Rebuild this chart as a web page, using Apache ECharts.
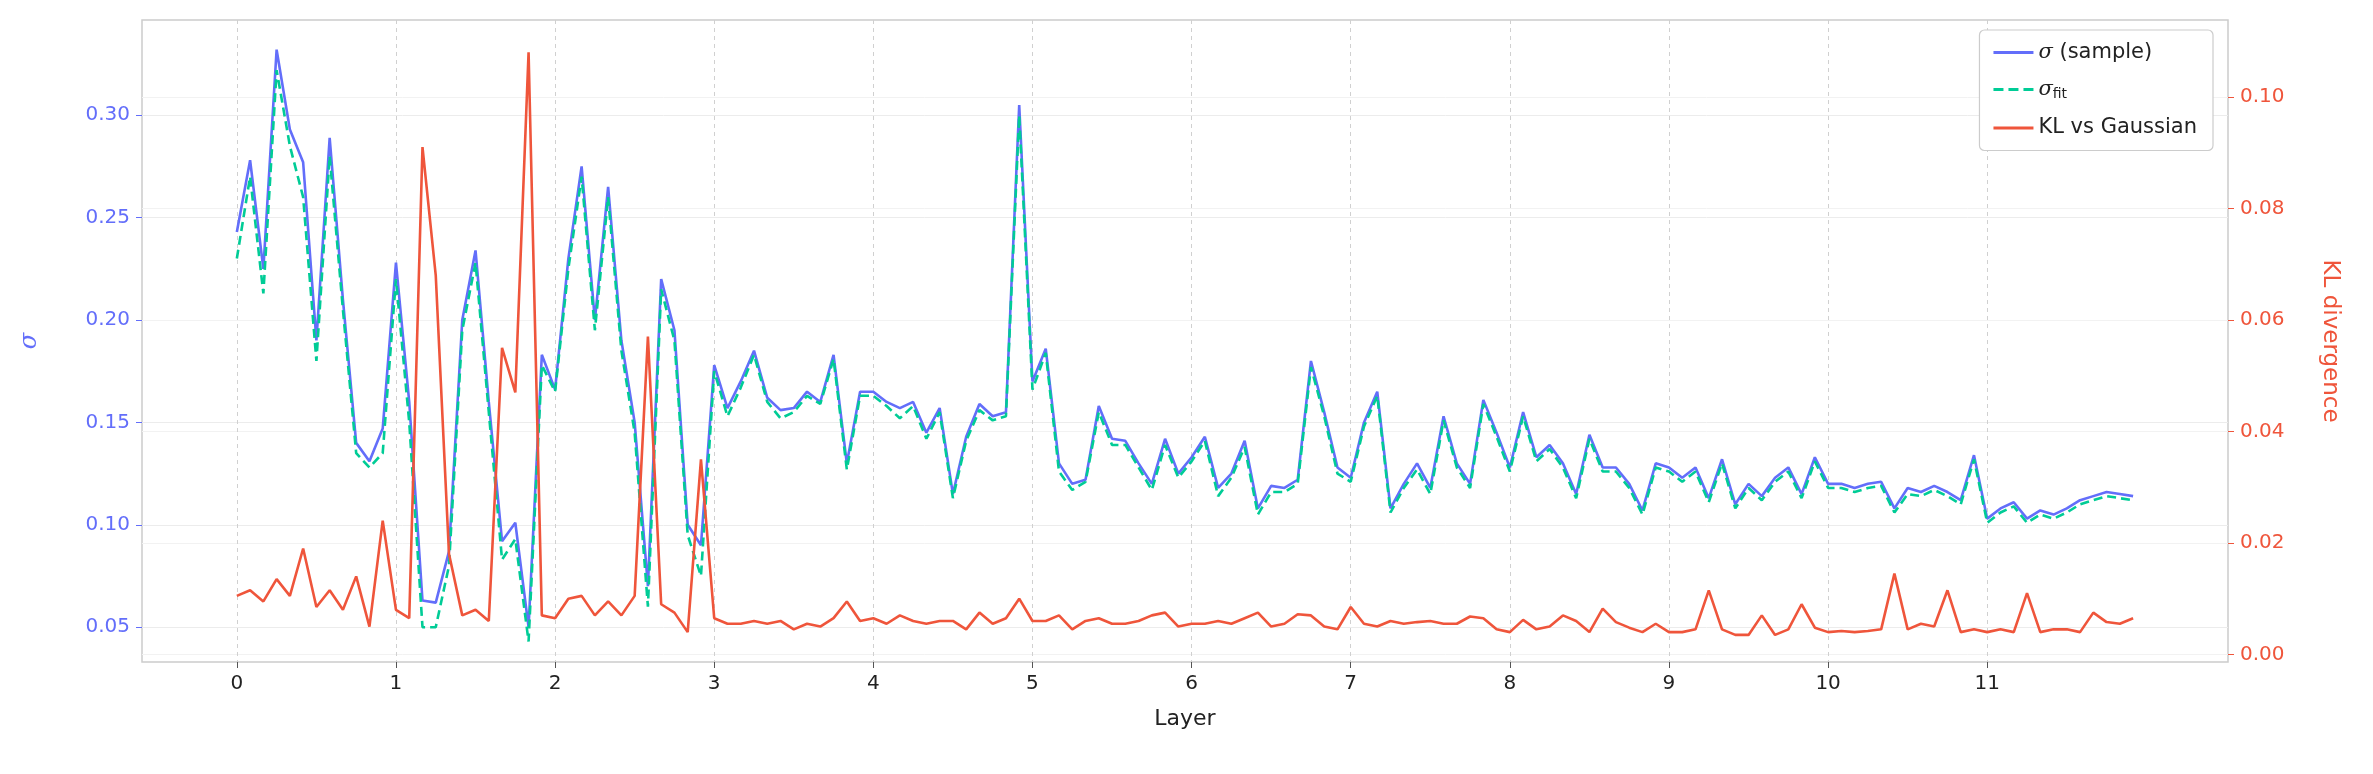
<!DOCTYPE html>
<html><head><meta charset="utf-8">
<script src="https://cdn.jsdelivr.net/npm/echarts@6/dist/echarts.min.js"></script>
<style>html,body{margin:0;padding:0;background:#fff}#c{width:2373px;height:774px}</style>
</head><body><div id="c"></div>
<script>
const xTicks=[0,1,2,3,4,5,6,7,8,9,10,11];
const sigmaTicks=[0.05,0.10,0.15,0.20,0.25,0.30];
const klTicks=[0,0.02,0.04,0.06,0.08,0.10];
const sigma=[0.243,0.278,0.225,0.332,0.293,0.277,0.19,0.289,0.21,0.14,0.131,0.147,
0.228,0.16,0.063,0.062,0.087,0.2,0.234,0.16,0.092,0.101,0.05,0.183,
0.166,0.23,0.275,0.2,0.265,0.19,0.15,0.07,0.22,0.195,0.1,0.09,
0.178,0.157,0.17,0.185,0.162,0.156,0.157,0.165,0.16,0.183,0.13,0.165,
0.165,0.16,0.157,0.16,0.145,0.157,0.115,0.143,0.159,0.153,0.155,0.305,
0.17,0.186,0.13,0.12,0.122,0.158,0.142,0.141,0.13,0.12,0.142,0.125,
0.133,0.143,0.118,0.125,0.141,0.108,0.119,0.118,0.122,0.18,0.155,0.128,
0.123,0.15,0.165,0.108,0.12,0.13,0.118,0.153,0.13,0.12,0.161,0.145,
0.128,0.155,0.133,0.139,0.13,0.115,0.144,0.128,0.128,0.12,0.107,0.13,
0.128,0.123,0.128,0.113,0.132,0.11,0.12,0.114,0.123,0.128,0.115,0.133,
0.12,0.12,0.118,0.12,0.121,0.108,0.118,0.116,0.119,0.116,0.112,0.134,
0.103,0.108,0.111,0.103,0.107,0.105,0.108,0.112,0.114,0.116,0.115,0.114];
const sigmaFit=[0.23,0.27,0.213,0.322,0.285,0.26,0.18,0.28,0.205,0.135,0.128,0.135,
0.22,0.15,0.05,0.05,0.08,0.195,0.228,0.155,0.083,0.093,0.043,0.178,
0.165,0.225,0.27,0.195,0.26,0.185,0.145,0.06,0.215,0.19,0.095,0.075,
0.175,0.153,0.167,0.183,0.16,0.152,0.155,0.163,0.159,0.181,0.127,0.163,
0.163,0.158,0.152,0.158,0.142,0.155,0.113,0.141,0.156,0.151,0.153,0.3,
0.166,0.184,0.126,0.117,0.121,0.155,0.139,0.139,0.128,0.117,0.139,0.123,
0.131,0.141,0.114,0.123,0.138,0.105,0.116,0.116,0.12,0.177,0.153,0.125,
0.121,0.148,0.163,0.106,0.118,0.127,0.115,0.151,0.128,0.118,0.159,0.143,
0.126,0.153,0.131,0.137,0.128,0.113,0.142,0.126,0.126,0.118,0.105,0.128,
0.126,0.121,0.126,0.111,0.13,0.108,0.118,0.112,0.121,0.126,0.113,0.131,
0.118,0.118,0.116,0.118,0.119,0.106,0.115,0.114,0.117,0.114,0.11,0.132,
0.101,0.106,0.109,0.101,0.105,0.103,0.106,0.11,0.112,0.114,0.113,0.112];
const kl=[0.0105,0.0115,0.0095,0.0135,0.0105,0.019,0.0085,0.0115,0.008,0.014,0.005,0.024,
0.008,0.0065,0.091,0.068,0.018,0.007,0.008,0.006,0.055,0.047,0.108,0.007,
0.0065,0.01,0.0105,0.007,0.0095,0.007,0.0105,0.057,0.009,0.0075,0.004,0.035,
0.0065,0.0055,0.0055,0.006,0.0055,0.006,0.0045,0.0055,0.005,0.0065,0.0095,0.006,
0.0065,0.0055,0.007,0.006,0.0055,0.006,0.006,0.0045,0.0075,0.0055,0.0065,0.01,
0.006,0.006,0.007,0.0045,0.006,0.0065,0.0055,0.0055,0.006,0.007,0.0075,0.005,
0.0055,0.0055,0.006,0.0055,0.0065,0.0075,0.005,0.0055,0.0072,0.007,0.005,0.0045,
0.0085,0.0055,0.005,0.006,0.0055,0.0058,0.006,0.0055,0.0055,0.0068,0.0065,0.0045,
0.004,0.0062,0.0045,0.005,0.007,0.006,0.004,0.0082,0.0058,0.0048,0.004,0.0055,
0.004,0.004,0.0045,0.0115,0.0045,0.0035,0.0035,0.007,0.0035,0.0045,0.009,0.0048,
0.004,0.0042,0.004,0.0042,0.0045,0.0145,0.0045,0.0055,0.005,0.0115,0.004,0.0045,
0.004,0.0045,0.004,0.011,0.004,0.0045,0.0045,0.004,0.0075,0.0058,0.0055,0.0065];
const layerX=sigma.map((_,i)=>i/12);
const pairs=a=>a.map((v,i)=>[layerX[i],v]);
const xMin=-0.596,xMax=11.917+0.596;
const chart=echarts.init(document.getElementById('c'));
const tickFont={fontFamily:'DejaVu Sans',fontSize:20};
chart.setOption({
 animation:false,
 grid:{left:142,right:145,top:20,bottom:112,show:true,borderColor:'#cccccc',borderWidth:1.5},
 legend:{right:160,top:30,orient:'vertical',itemWidth:40,itemHeight:3,itemGap:16,
   backgroundColor:'#fff',borderColor:'#cccccc',borderWidth:1.2,borderRadius:5,padding:[12,16,12,14],
   textStyle:{fontFamily:'DejaVu Sans',fontSize:21,color:'#222',rich:{i:{fontStyle:'italic',fontSize:21,fontFamily:'DejaVu Serif'},s:{fontSize:14,verticalAlign:'bottom',padding:[10,0,0,0]}}},
   formatter:n=>n==='sig'?'{i|σ} (sample)':n==='fit'?'{i|σ}{s|fit}':'KL vs Gaussian',
   data:[{name:'sig',icon:'path://M0,0H40V3H0Z'},{name:'fit',icon:'path://M0,0H10V3H0ZM15,0H25V3H15ZM30,0H40V3H30Z'},{name:'kl',icon:'path://M0,0H40V3H0Z'}]},
 xAxis:{type:'value',min:xMin,max:xMax,name:'Layer',nameLocation:'middle',nameGap:46,
   nameTextStyle:{fontFamily:'DejaVu Sans',fontSize:22,color:'#222'},
   axisLine:{show:false,onZero:false},axisTick:{show:true,customValues:xTicks,length:6,lineStyle:{color:'#555'}},
   axisLabel:{customValues:xTicks,...tickFont,color:'#222',margin:12},
   splitLine:{show:true,lineStyle:{color:'#d0d0d0',type:[4,4],width:1}}},
 yAxis:[{type:'value',min:0.033,max:0.3465,position:'left',name:'σ',nameLocation:'middle',nameGap:100,
   nameTextStyle:{fontFamily:'DejaVu Serif',fontStyle:'italic',fontSize:24,color:'#636efa'},
   axisLine:{show:false,onZero:false},axisTick:{show:true,customValues:sigmaTicks,length:6,lineStyle:{color:'#636efa'}},
   axisLabel:{customValues:sigmaTicks,...tickFont,color:'#636efa',margin:12,formatter:v=>v.toFixed(2)},
   splitLine:{show:true,lineStyle:{color:'#ececec',width:1}}},
  {type:'value',min:-0.00136,max:0.1138,position:'right',name:'KL divergence',nameLocation:'middle',nameGap:90,nameRotate:-90,
   nameTextStyle:{fontFamily:'DejaVu Sans',fontSize:23,color:'#ef553b'},
   axisLine:{show:false,onZero:false},axisTick:{show:true,customValues:klTicks,length:6,lineStyle:{color:'#ef553b'}},
   axisLabel:{customValues:klTicks,...tickFont,color:'#ef553b',margin:12,formatter:v=>v.toFixed(2)},
   splitLine:{show:true,lineStyle:{color:'#f2f2f2',width:1}}}],
 series:[
  {name:'sig',type:'line',data:pairs(sigma),yAxisIndex:0,symbol:'none',lineStyle:{color:'#636efa',width:2.6},itemStyle:{color:'#636efa'},z:3},
  {name:'fit',type:'line',data:pairs(sigmaFit),yAxisIndex:0,symbol:'none',lineStyle:{color:'#00cc96',width:2.6,type:[9,5]},itemStyle:{color:'#00cc96'},z:4},
  {name:'kl',type:'line',data:pairs(kl),yAxisIndex:1,symbol:'none',lineStyle:{color:'#ef553b',width:2.6},itemStyle:{color:'#ef553b'},z:5}
 ]
});
</script></body></html>
